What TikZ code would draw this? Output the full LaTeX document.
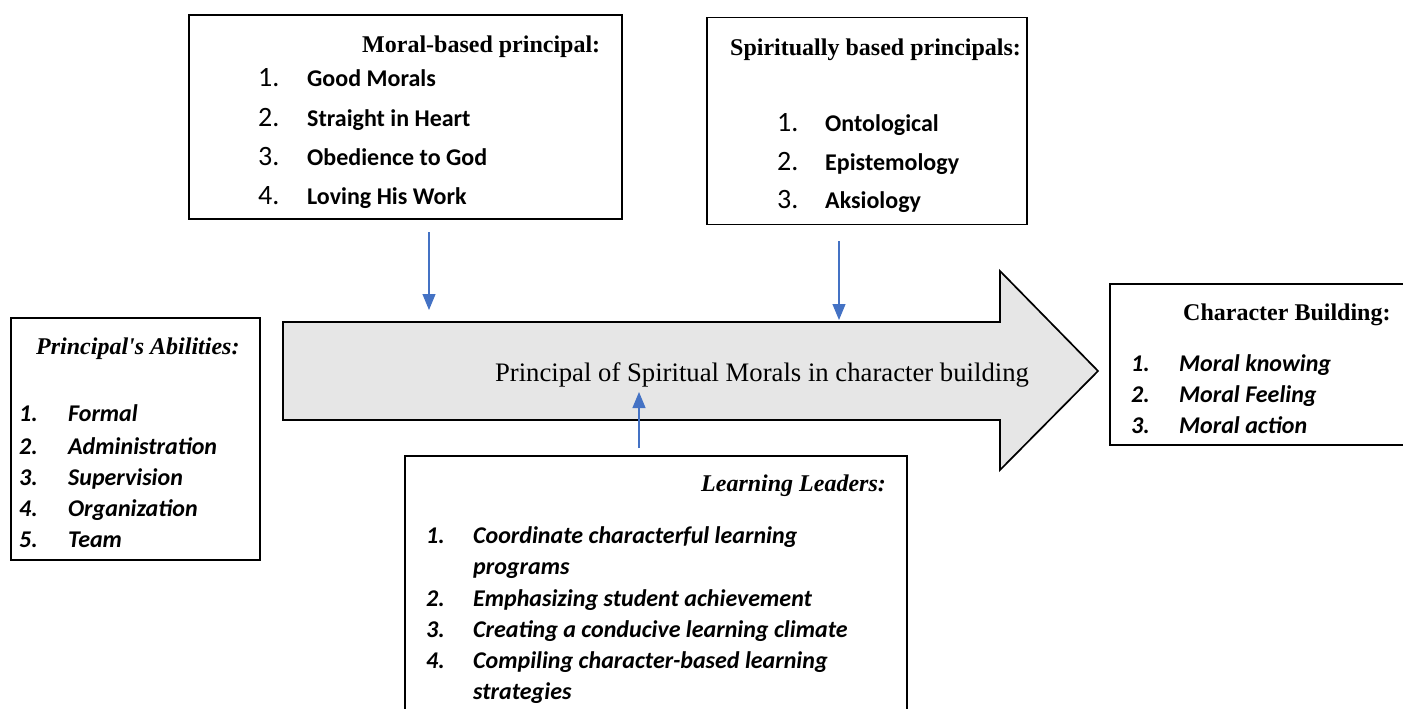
\documentclass[tikz,border=0pt]{standalone}
\usepackage{fontspec}
\newfontfamily\tnr{Liberation Serif}
\newfontfamily\calib{Carlito}
\usetikzlibrary{arrows.meta}
\definecolor{linkblue}{HTML}{4472C4}
\definecolor{arrowfill}{HTML}{E6E6E6}
\begin{document}
\begin{tikzpicture}[x=1pt,y=-1pt,
 frame/.style={draw, line width=1.7pt, inner sep=0pt, outer sep=0pt},
 hd/.style={anchor=base west, inner sep=0pt, font=\tnr\bfseries\fontsize{24}{28}\selectfont},
 hdi/.style={anchor=base west, inner sep=0pt, font=\tnr\bfseries\itshape\fontsize{24}{28}\selectfont},
 num/.style={anchor=base west, inner sep=0pt, font=\calib\fontsize{28}{32}\selectfont},
 itm/.style={anchor=base west, inner sep=0pt, font=\calib\bfseries\fontsize{24}{28}\selectfont},
 itmi/.style={anchor=base west, inner sep=0pt, font=\calib\bfseries\itshape\fontsize{24}{28}\selectfont},
 link/.style={draw=linkblue, line width=1.1pt, -{Triangle[width=13pt,length=16pt]}}
]
\useasboundingbox (0,0) rectangle (1403,709);
\fill[white] (0,0) rectangle (1403,709);

% boxes
\node[frame, minimum width=433pt, minimum height=204pt] (moral) at (405.5,117) {};
\node[frame, minimum width=320pt, minimum height=207pt] (spirit) at (867,121) {};
\node[frame, minimum width=249pt, minimum height=242pt] (abil) at (135.5,439) {};
\node[frame, minimum width=502pt, minimum height=270pt] (lead) at (656,591) {};
\node[frame, minimum width=320pt, minimum height=161pt] (charb) at (1270,364.5) {};

% big arrow
\draw[line width=1.7pt, fill=arrowfill] (283,322) -- (1000,322) -- (1000,271) -- (1098,371) -- (1000,470) -- (1000,420) -- (283,420) -- cycle;
\node[anchor=base, inner sep=0pt, font=\tnr\fontsize{26.7}{31}\selectfont] (main) at (762,381) {Principal of Spiritual Morals in character building};

% moral-based
\node[hd] (mh) at (362,53) {Moral-based principal:};
\node[num] (m1n) at (258,87) {1.};
\node[itm] (m1) at (307,87) {Good Morals};
\node[num] (m2n) at (258,126) {2.};
\node[itm] (m2) at (307,126) {Straight in Heart};
\node[num] (m3n) at (258,165) {3.};
\node[itm] (m3) at (307,165) {Obedience to God};
\node[num] (m4n) at (258,204) {4.};
\node[itm] (m4) at (307,204) {Loving His Work};

% spiritually based
\node[hd] (sh) at (730,56) {Spiritually based principals:};
\node[num] (s1n) at (777,131) {1.};
\node[itm] (s1) at (825,131) {Ontological};
\node[num] (s2n) at (777,170) {2.};
\node[itm] (s2) at (825,170) {Epistemology};
\node[num] (s3n) at (777,208) {3.};
\node[itm] (s3) at (825,208) {Aksiology};

% abilities
\node[hdi] (ah) at (36,354) {Principal's Abilities:};
\node[itmi] (a1n) at (19,421) {1.};
\node[itmi] (a1) at (68,421) {Formal};
\node[itmi] (a2n) at (19,454) {2.};
\node[itmi] (a2) at (68,454) {Administration};
\node[itmi] (a3n) at (19,485) {3.};
\node[itmi] (a3) at (68,485) {Supervision};
\node[itmi] (a4n) at (19,516) {4.};
\node[itmi] (a4) at (68,516) {Organization};
\node[itmi] (a5n) at (19,547) {5.};
\node[itmi] (a5) at (68,547) {Team};

% learning leaders
\node[hdi] (lh) at (701,491) {Learning Leaders:};
\node[itmi] (l1n) at (426,543) {1.};
\node[itmi] (l1) at (473,543) {Coordinate characterful learning};
\node[itmi] (l1b) at (473,574) {programs};
\node[itmi] (l2n) at (426,606) {2.};
\node[itmi] (l2) at (473,606) {Emphasizing student achievement};
\node[itmi] (l3n) at (426,637) {3.};
\node[itmi] (l3) at (473,637) {Creating a conducive learning climate};
\node[itmi] (l4n) at (426,668) {4.};
\node[itmi] (l4) at (473,668) {Compiling character-based learning};
\node[itmi] (l4b) at (473,699) {strategies};

% character building
\node[hd] (ch) at (1183,320) {Character Building:};
\node[itmi] (c1n) at (1131,371) {1.};
\node[itmi] (c1) at (1179,371) {Moral knowing};
\node[itmi] (c2n) at (1131,402) {2.};
\node[itmi] (c2) at (1179,402) {Moral Feeling};
\node[itmi] (c3n) at (1131,433) {3.};
\node[itmi] (c3) at (1179,433) {Moral action};

% blue connectors
\coordinate (t1) at (429,232);
\coordinate (e1) at (429,310);
\coordinate (t2) at (839,241);
\coordinate (e2) at (839,320);
\coordinate (t3) at (639,448);
\coordinate (e3) at (639,392);
\draw[link] (t1) -- (e1);
\draw[link] (t2) -- (e2);
\draw[link] (t3) -- (e3);
\end{tikzpicture}
\end{document}
